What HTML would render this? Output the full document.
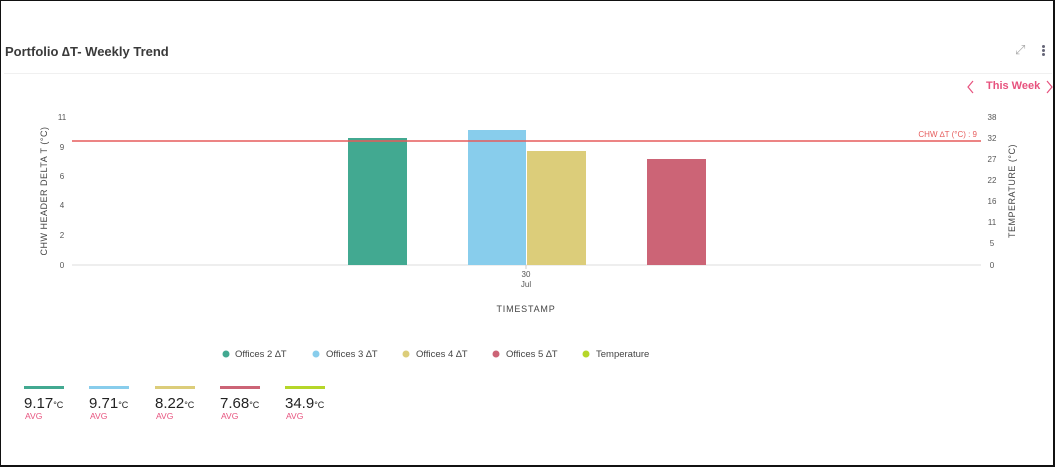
<!DOCTYPE html>
<html><head><style>
body{margin:0;width:1056px;height:467px;overflow:hidden;background:#fff;font-family:"Liberation Sans",sans-serif;}
.frame{position:absolute;left:0;top:0;width:1052px;height:464px;border:1px solid #111;border-right:2px solid #111;border-bottom:2px solid #111;}
.t{position:absolute;white-space:nowrap}
</style></head><body>
<div class="frame"></div>
<div class="t" style="left:5px;top:44px;font-size:13px;font-weight:bold;color:#3a3a3a">Portfolio ∆T- Weekly Trend</div>
<div style="position:absolute;left:4px;top:73px;width:1048px;height:1px;background:#f0f0f0"></div>
<div class="t" style="left:1015px;top:42px;font-size:13px;color:#aaa">⤢</div>
<div style="position:absolute;left:1042px;top:45px;width:3px;height:3px;background:#667;border-radius:50%;box-shadow:0 4px #667,0 8px #667"></div>
<div class="t" style="left:986px;top:80px;font-size:11px;font-weight:bold;color:#e7527e">This Week</div>
<svg style="position:absolute;left:0;top:0" width="1056" height="467" font-family="Liberation Sans,sans-serif">
<polyline points="973,81 968,87 973,93" fill="none" stroke="#e7527e" stroke-width="1.2"/>
<polyline points="1047,81 1052,87 1047,93" fill="none" stroke="#e7527e" stroke-width="1.2"/>
<g font-size="8" fill="#555" text-anchor="middle">
<text x="62" y="120">11</text><text x="62" y="150">9</text><text x="62" y="179">6</text><text x="62" y="208">4</text><text x="62" y="238">2</text><text x="62" y="268">0</text>
<text x="992" y="120">38</text><text x="992" y="141">32</text><text x="992" y="162">27</text><text x="992" y="183">22</text><text x="992" y="204">16</text><text x="992" y="225">11</text><text x="992" y="246">5</text><text x="992" y="268">0</text>
<text x="526" y="277">30</text><text x="526" y="287">Jul</text>
</g>
<text x="47" y="191" font-size="9" fill="#444" text-anchor="middle" transform="rotate(-90 47 191)" letter-spacing="0.5">CHW HEADER DELTA T (°C)</text>
<text x="1015" y="191" font-size="9" fill="#444" text-anchor="middle" transform="rotate(-90 1015 191)" letter-spacing="0.5">TEMPERATURE (°C)</text>
<text x="526" y="312" font-size="9" fill="#444" text-anchor="middle" letter-spacing="0.8">TIMESTAMP</text>
<line x1="72" y1="265" x2="981" y2="265" stroke="#ddd"/>
<line x1="526" y1="265" x2="526" y2="269" stroke="#ccc"/>
<rect x="348" y="138" width="59" height="127" fill="#42a991"/>
<rect x="468" y="130" width="58" height="135" fill="#88cdec"/>
<rect x="527" y="151" width="59" height="114" fill="#dccd7a"/>
<rect x="647" y="159" width="59" height="106" fill="#cc6476"/>
<line x1="72" y1="141" x2="981" y2="141" stroke="#e65c5c" stroke-width="1.5"/>
<text x="977" y="137" font-size="8" fill="#e65c5c" text-anchor="end">CHW ∆T (°C) : 9</text>
<g font-size="9.5" fill="#444">
<circle cx="226" cy="354" r="3.5" fill="#42a991"/><text x="235" y="357">Offices 2 ∆T</text>
<circle cx="316" cy="354" r="3.5" fill="#88cdec"/><text x="326" y="357">Offices 3 ∆T</text>
<circle cx="406" cy="354" r="3.5" fill="#dccd7a"/><text x="416" y="357">Offices 4 ∆T</text>
<circle cx="496" cy="354" r="3.5" fill="#cc6476"/><text x="506" y="357">Offices 5 ∆T</text>
<circle cx="586" cy="354" r="3.5" fill="#b5d629"/><text x="596" y="357">Temperature</text>
</g>
<g>
<rect x="24" y="386" width="40" height="3" fill="#42a991"/>
<rect x="89" y="386" width="40" height="3" fill="#88cdec"/>
<rect x="155" y="386" width="40" height="3" fill="#dccd7a"/>
<rect x="220" y="386" width="40" height="3" fill="#cc6476"/>
<rect x="285" y="386" width="40" height="3" fill="#b5d629"/>
</g>
<g fill="#222" font-size="15">
<text x="24" y="408">9.17<tspan font-size="9">°C</tspan></text>
<text x="89" y="408">9.71<tspan font-size="9">°C</tspan></text>
<text x="155" y="408">8.22<tspan font-size="9">°C</tspan></text>
<text x="220" y="408">7.68<tspan font-size="9">°C</tspan></text>
<text x="285" y="408">34.9<tspan font-size="9">°C</tspan></text>
</g>
<g fill="#e7527e" font-size="8.5">
<text x="25" y="419">AVG</text><text x="90" y="419">AVG</text><text x="156" y="419">AVG</text><text x="221" y="419">AVG</text><text x="286" y="419">AVG</text>
</g>
</svg>
</body></html>
